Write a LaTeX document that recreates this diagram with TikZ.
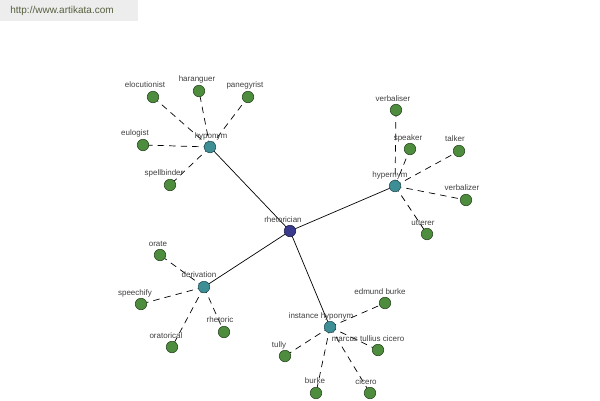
\documentclass[tikz,border=0pt]{standalone}
\usepackage{fontspec}
\setmainfont{Liberation Sans}
\definecolor{leaf}{HTML}{4E8C3E}
\definecolor{leafdk}{HTML}{2A4A22}
\definecolor{mid}{HTML}{3E8E96}
\definecolor{middk}{HTML}{24545A}
\definecolor{hub}{HTML}{3A3A8C}
\definecolor{hubdk}{HTML}{1E1E50}
\definecolor{txt}{HTML}{404040}
\definecolor{wm}{HTML}{55603F}
\begin{document}
\begin{tikzpicture}[x=1pt,y=-1pt,
  leafn/.style={circle,fill=leaf,draw=leafdk,line width=0.6pt,minimum size=11.5pt,inner sep=0pt},
  midn/.style={circle,fill=mid,draw=middk,line width=0.6pt,minimum size=11.5pt,inner sep=0pt},
  hubn/.style={circle,fill=hub,draw=hubdk,line width=0.6pt,minimum size=11.5pt,inner sep=0pt},
  lbl/.style={text=txt,font=\fontsize{8}{9}\selectfont,inner sep=0pt},
  solidc/.style={draw=black,line width=0.7pt},
  dashc/.style={draw=black,line width=0.7pt,dash pattern=on 6.5pt off 5pt}]
\useasboundingbox (0,0) rectangle (600,400);
\fill[white] (0,0) rectangle (600,400);
\node[fill=black!7,minimum width=138pt,minimum height=21pt,anchor=north west,inner sep=0pt] (wmbox) at (0,0) {};
\node[text=wm,font=\fontsize{10}{11}\selectfont,inner sep=0pt] (wmtext) at (62,11) {http://www.artikata.com};

% hub and mid nodes coordinates
\coordinate (c) at (290,231);
\coordinate (hypo) at (210,147);
\coordinate (hyper) at (395,186);
\coordinate (deriv) at (204,287);
\coordinate (inst) at (330,327);

% leaves coordinates
\coordinate (eloc) at (153,97);
\coordinate (har) at (199,91);
\coordinate (pan) at (248,97);
\coordinate (eul) at (143,145);
\coordinate (spell) at (170,185);

\coordinate (verbs) at (396,110);
\coordinate (speak) at (410,149);
\coordinate (talk) at (459,151);
\coordinate (verbz) at (466,200);
\coordinate (utt) at (427,234);

\coordinate (orate) at (160,255);
\coordinate (speech) at (141,304);
\coordinate (rhet) at (224,332);
\coordinate (orat) at (172,347);

\coordinate (edm) at (385,303);
\coordinate (marc) at (378,350);
\coordinate (tully) at (285,356);
\coordinate (burke) at (316,393);
\coordinate (cic) at (370,393);

% connectors
\draw[solidc] (c) -- (hypo);
\draw[solidc] (c) -- (hyper);
\draw[solidc] (c) -- (deriv);
\draw[solidc] (c) -- (inst);
\foreach \l in {eloc,har,pan,eul,spell} \draw[dashc] (hypo) -- (\l);
\foreach \l in {verbs,speak,talk,verbz,utt} \draw[dashc] (hyper) -- (\l);
\foreach \l in {orate,speech,rhet,orat} \draw[dashc] (deriv) -- (\l);
\foreach \l in {edm,marc,tully,burke,cic} \draw[dashc] (inst) -- (\l);

% nodes
\node[hubn] (cN) at (c) {};
\foreach \m in {hypo,hyper,deriv,inst} \node[midn] (\m N) at (\m) {};
\foreach \l in {eloc,har,pan,eul,spell,verbs,speak,talk,verbz,utt,orate,speech,rhet,orat,edm,marc,tully,burke,cic}
  \node[leafn] (\l N) at (\l) {};

% labels
\node[lbl] (cL) at (283,220) {rhetorician};
\node[lbl] (hypoL) at (211,136) {hyponym};
\node[lbl] (hyperL) at (390,175) {hypernym};
\node[lbl] (derivL) at (199,275) {derivation};
\node[lbl] (instL) at (321,316) {instance hyponym};

\node[lbl] (elocL) at (145,85) {elocutionist};
\node[lbl] (harL) at (197,79) {haranguer};
\node[lbl] (panL) at (245,85) {panegyrist};
\node[lbl] (eulL) at (135,133) {eulogist};
\node[lbl] (spellL) at (164,173) {spellbinder};

\node[lbl] (verbsL) at (393,99) {verbaliser};
\node[lbl] (speakL) at (408,138) {speaker};
\node[lbl] (talkL) at (455,139) {talker};
\node[lbl] (verbzL) at (462,188) {verbalizer};
\node[lbl] (uttL) at (423,223) {utterer};

\node[lbl] (orateL) at (158,244) {orate};
\node[lbl] (speechL) at (135,293) {speechify};
\node[lbl] (rhetL) at (220,320) {rhetoric};
\node[lbl] (oratL) at (166,336) {oratorical};

\node[lbl] (edmL) at (380,292) {edmund burke};
\node[lbl] (marcL) at (368,339) {marcus tullius cicero};
\node[lbl] (tullyL) at (279,345) {tully};
\node[lbl] (burkeL) at (315,381) {burke};
\node[lbl] (cicL) at (366,382) {cicero};
\end{tikzpicture}
\end{document}
